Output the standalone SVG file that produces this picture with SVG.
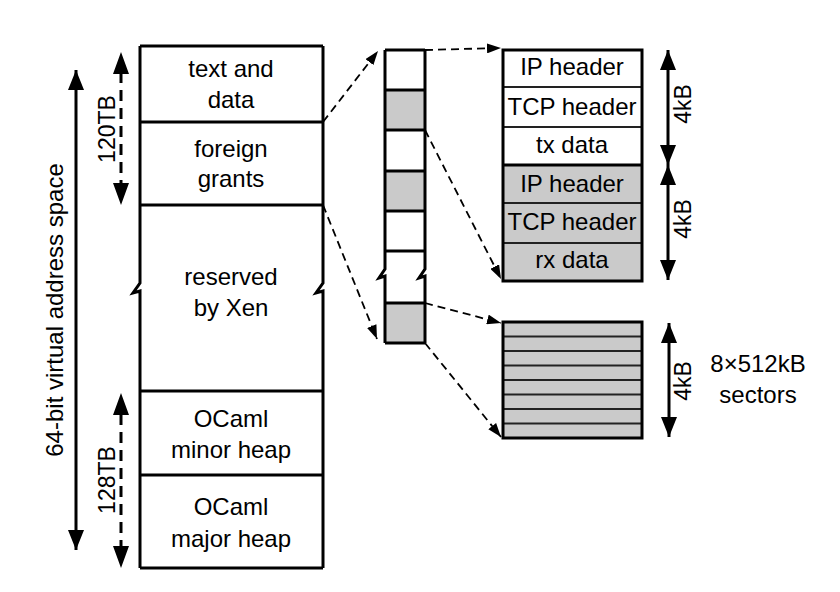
<svg xmlns="http://www.w3.org/2000/svg" width="840" height="592" viewBox="0 0 840 592">
<style>
  .lbl { font-family: "Liberation Sans", Arial, sans-serif; font-size: 24px; fill: #000; text-anchor: middle; }
  .sm { font-size: 23px; }
  .box { fill: none; stroke: #000; stroke-width: 3; stroke-linejoin: miter; }
  .thin { fill: none; stroke: #222; stroke-width: 2; }
  .gray { fill: #cacaca; }
  .white { fill: #fff; }
  .dash { fill: none; stroke: #000; stroke-width: 1.8; stroke-dasharray: 8 5; }
  .solid { fill: none; stroke: #000; stroke-width: 3; }
  .dashv { fill: none; stroke: #000; stroke-width: 3; stroke-dasharray: 11 7; }
</style>
<defs>
  <marker id="ah" viewBox="0 0 14 10" refX="14" refY="5" markerWidth="14" markerHeight="10" markerUnits="userSpaceOnUse" orient="auto">
    <path d="M0,0 L14,5 L0,10 Z" fill="#000"/>
  </marker>
  <marker id="big" viewBox="0 0 20 16" refX="20" refY="8" markerWidth="20" markerHeight="16" markerUnits="userSpaceOnUse" orient="auto-start-reverse">
    <path d="M0,0 L20,8 L0,16 Z" fill="#000"/>
  </marker>
</defs>
<rect width="840" height="592" fill="#fff"/>

<!-- Main address space column -->
<g id="main-column">
  <path class="box" d="M140,46 H323"/>
  <path class="box" d="M140,568 H323"/>
  <path class="box" d="M140,46 V283 L133,293 L140,291 V568"/>
  <path class="box" d="M323,46 V283 L316,293 L323,291 V568"/>
</g>
<g id="seg-text-data">
  <path class="box" d="M140,122 H323"/>
  <text class="lbl" x="231" y="77">text and</text>
  <text class="lbl" x="231" y="108">data</text>
</g>
<g id="seg-foreign-grants">
  <path class="box" d="M140,205 H323"/>
  <text class="lbl" x="231" y="157">foreign</text>
  <text class="lbl" x="231" y="187">grants</text>
</g>
<g id="seg-reserved">
  <text class="lbl" x="231" y="285">reserved</text>
  <text class="lbl" x="231" y="316">by Xen</text>
</g>
<g id="seg-minor-heap">
  <path class="box" d="M140,391 H323"/>
  <text class="lbl" x="231" y="427">OCaml</text>
  <text class="lbl" x="231" y="458">minor heap</text>
</g>
<g id="seg-major-heap">
  <path class="box" d="M140,475 H323"/>
  <text class="lbl" x="231" y="515">OCaml</text>
  <text class="lbl" x="231" y="547">major heap</text>
</g>

<!-- Size annotations on the left -->
<g id="addr-space-arrow">
  <path class="solid" d="M76,70 V550" marker-start="url(#big)" marker-end="url(#big)"/>
  <text class="lbl" transform="translate(63,310) rotate(-90)">64-bit virtual address space</text>
</g>
<g id="arrow-120TB">
  <path class="dashv" d="M121,72 V186"/>
  <path d="M113,74 L121,52 L129,74 Z M113,183 L121,205 L129,183 Z" fill="#000"/>
  <text class="lbl sm" transform="translate(115,129) rotate(-90)">120TB</text>
</g>
<g id="arrow-128TB">
  <path class="dashv" d="M121,414 V548"/>
  <path d="M113,415 L121,393 L129,415 Z M113,546 L121,568 L129,546 Z" fill="#000"/>
  <text class="lbl sm" transform="translate(115,480) rotate(-90)">128TB</text>
</g>

<!-- Middle page column -->
<g id="page-column">
  <rect class="gray" x="385" y="90" width="40" height="40"/>
  <rect class="gray" x="385" y="171" width="40" height="40"/>
  <rect class="gray" x="385" y="303" width="40" height="40"/>
  <path class="box" d="M385,50 H425 M385,90 H425 M385,130 H425 M385,171 H425 M385,211 H425 M385,251 H425 M385,303 H425 M385,343 H425"/>
  <path class="box" d="M385,50 V269 L379,278 L385,276 V343"/>
  <path class="box" d="M425,50 V269 L419,278 L425,276 V343"/>
</g>

<!-- Network page -->
<g id="net-page">
  <rect class="white" x="503" y="50" width="139" height="115"/>
  <rect class="gray" x="503" y="165" width="139" height="116"/>
  <path class="thin" d="M503,87 H642 M503,127 H642 M503,203 H642 M503,243 H642"/>
  <path class="box" d="M503,165 H642"/>
  <rect class="box" x="503" y="50" width="139" height="231"/>
  <text class="lbl" x="572" y="75">IP header</text>
  <text class="lbl" x="572" y="115">TCP header</text>
  <text class="lbl" x="572" y="153">tx data</text>
  <text class="lbl" x="572" y="192">IP header</text>
  <text class="lbl" x="572" y="230">TCP header</text>
  <text class="lbl" x="572" y="268">rx data</text>
</g>
<g id="tx-4kB">
  <path class="solid" d="M668,50 V165" marker-start="url(#big)" marker-end="url(#big)"/>
  <text class="lbl sm" transform="translate(691,104) rotate(-90)">4kB</text>
</g>
<g id="rx-4kB">
  <path class="solid" d="M668,165 V280" marker-start="url(#big)" marker-end="url(#big)"/>
  <text class="lbl sm" transform="translate(691,219) rotate(-90)">4kB</text>
</g>

<!-- Block page -->
<g id="block-page">
  <rect class="gray" x="503" y="322" width="139" height="116"/>
  <path class="thin" d="M503,336.5 H642 M503,351 H642 M503,365.5 H642 M503,380 H642 M503,394.5 H642 M503,409 H642 M503,423.5 H642"/>
  <rect class="box" x="503" y="322" width="139" height="116"/>
</g>
<g id="block-4kB">
  <path class="solid" d="M669,323 V437" marker-start="url(#big)" marker-end="url(#big)"/>
  <text class="lbl sm" transform="translate(691,381) rotate(-90)">4kB</text>
  <text class="lbl" x="758" y="372">8×512kB</text>
  <text class="lbl" x="758" y="403">sectors</text>
</g>

<!-- Dashed zoom connectors -->
<g id="connectors">
  <path class="dash" d="M323,122 L378,51" marker-end="url(#ah)"/>
  <path class="dash" d="M323,205 L377,339" marker-end="url(#ah)"/>
  <path class="dash" d="M425,50 L501,48" marker-end="url(#ah)"/>
  <path class="dash" d="M425,130 L501,279" marker-end="url(#ah)"/>
  <path class="dash" d="M425,303 L501,323" marker-end="url(#ah)"/>
  <path class="dash" d="M425,343 L501,437" marker-end="url(#ah)"/>
</g>
</svg>
